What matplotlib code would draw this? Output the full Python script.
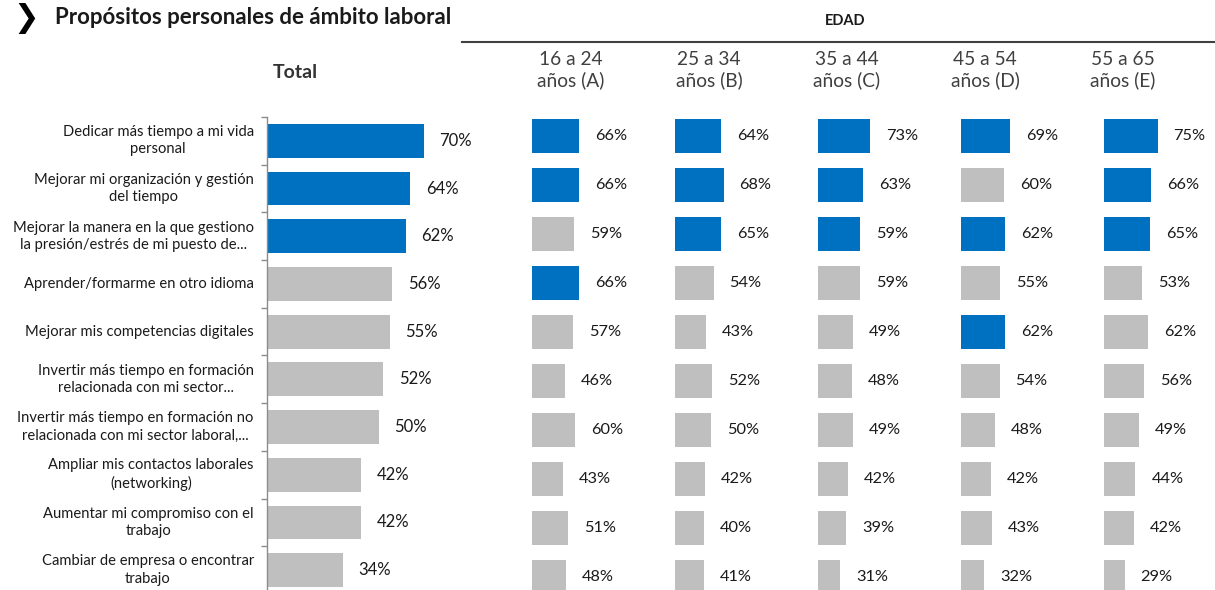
import matplotlib
matplotlib.use("Agg")
import matplotlib.pyplot as plt
from matplotlib.lines import Line2D

plt.rcParams['font.family'] = ['Lato', 'DejaVu Sans']

categories = [
    "Dedicar más tiempo a mi vida\npersonal",
    "Mejorar mi organización y gestión\ndel tiempo",
    "Mejorar la manera en la que gestiono\nla presión/estrés de mi puesto de...",
    "Aprender/formarme en otro idioma",
    "Mejorar mis competencias digitales",
    "Invertir más tiempo en formación\nrelacionada con mi sector...",
    "Invertir más tiempo en formación no\nrelacionada con mi sector laboral,...",
    "Ampliar mis contactos laborales\n(networking)",
    "Aumentar mi compromiso con el\ntrabajo",
    "Cambiar de empresa o encontrar\ntrabajo",
]
total = [70, 64, 62, 56, 55, 52, 50, 42, 42, 34]
total_hl = [0, 1, 2]

age_labels = ["16 a 24\naños (A)", "25 a 34\naños (B)", "35 a 44\naños (C)",
              "45 a 54\naños (D)", "55 a 65\naños (E)"]
age_a = [66, 66, 59, 66, 57, 46, 60, 43, 51, 48]
age_b = [64, 68, 65, 54, 43, 52, 50, 42, 40, 41]
age_c = [73, 63, 59, 59, 49, 48, 49, 42, 39, 31]
age_d = [69, 60, 62, 55, 62, 54, 48, 42, 43, 32]
age_e = [75, 66, 65, 53, 62, 56, 49, 44, 42, 29]
age_hl_a = [0, 1, 3]
age_hl_b = [0, 1, 2]
age_hl_c = [0, 1, 2]
age_hl_d = [0, 2, 4]
age_hl_e = [0, 1, 2]

BLUE = "#0070C0"
GRAY = "#BFBFBF"
TXT = "#1a1a1a"

W, H = 1215, 590
fig = plt.figure(figsize=(W / 100, H / 100), dpi=100)


def rect(x0, y0, w, h):
    # pixel coords from top-left -> figure fraction
    return [x0 / W, 1 - (y0 + h) / H, w / W, h / H]


n = len(categories)
ypos = list(range(n))

# ---- Total panel
axT = fig.add_axes(rect(267, 117, 224, 477))
colorsT = [BLUE if i in total_hl else GRAY for i in ypos]
axT.barh(ypos, total, height=0.71, color=colorsT)
axT.set_xlim(0, 100)
axT.set_ylim(n - 0.5, -0.5)
for s in ["top", "right", "bottom"]:
    axT.spines[s].set_visible(False)
axT.spines["left"].set_color("#8c8c8c")
axT.spines["left"].set_linewidth(1.0)
axT.set_xticks([])
axT.set_yticks([i - 0.5 for i in range(n + 1)])
axT.set_yticklabels([])
axT.tick_params(axis="y", length=4, color="#8c8c8c", width=1.0)
for i, v in enumerate(total):
    axT.annotate(f"{v}%", (v, i), xytext=(11, 0), textcoords="offset points",
                 ha="left", va="center", fontsize=12, color=TXT)
    axT.annotate(categories[i], (0, i), xytext=(-9.5, 0), textcoords="offset points",
                 ha="right", va="center", multialignment="center",
                 fontsize=10.6, color=TXT, linespacing=1.3)

# ---- Age panels
series = [age_a, age_b, age_c, age_d, age_e]
highlights = [age_hl_a, age_hl_b, age_hl_c, age_hl_d, age_hl_e]
panel_x = [532, 675, 818, 961, 1104]
header_x = [571, 709, 847, 985, 1123]
for k, (vals, hl) in enumerate(zip(series, highlights)):
    ax = fig.add_axes(rect(panel_x[k], 111.5, 71.5, 490))
    cols = [BLUE if i in hl else GRAY for i in ypos]
    ax.barh(ypos, vals, height=0.69, color=cols)
    ax.set_xlim(0, 100)
    ax.set_ylim(n - 0.5, -0.5)
    ax.axis("off")
    for i, v in enumerate(vals):
        ax.annotate(f"{v}%", (v, i), xytext=(11.5, 0), textcoords="offset points",
                    ha="left", va="center", fontsize=11.8, color=TXT,
                    annotation_clip=False)
    fig.text(header_x[k] / W, 1 - 70 / H, age_labels[k], ha="center", va="center",
             fontsize=13.8, color="#404040", linespacing=1.2)

# ---- headers and title
fig.text(295 / W, 1 - 72 / H, "Total", ha="center", va="center",
         fontsize=14, fontweight="bold", color="#333333")
fig.text(845 / W, 1 - 21 / H, "EDAD", ha="center", va="center",
         fontsize=10.5, fontweight="bold", color=TXT)
fig.add_artist(Line2D([462 / W, 1.0], [1 - 42 / H, 1 - 42 / H],
                      color="#404040", linewidth=1.5))
fig.text(13 / W, 1 - 19 / H, "\u276F", ha="left", va="center",
         fontsize=22, fontweight="bold", color="black", family="DejaVu Sans")
fig.text(55 / W, 1 - 18 / H, "Propósitos personales de ámbito laboral",
         ha="left", va="center", fontsize=16, fontweight="bold", color=TXT)

fig.savefig("out.png", dpi=100)
